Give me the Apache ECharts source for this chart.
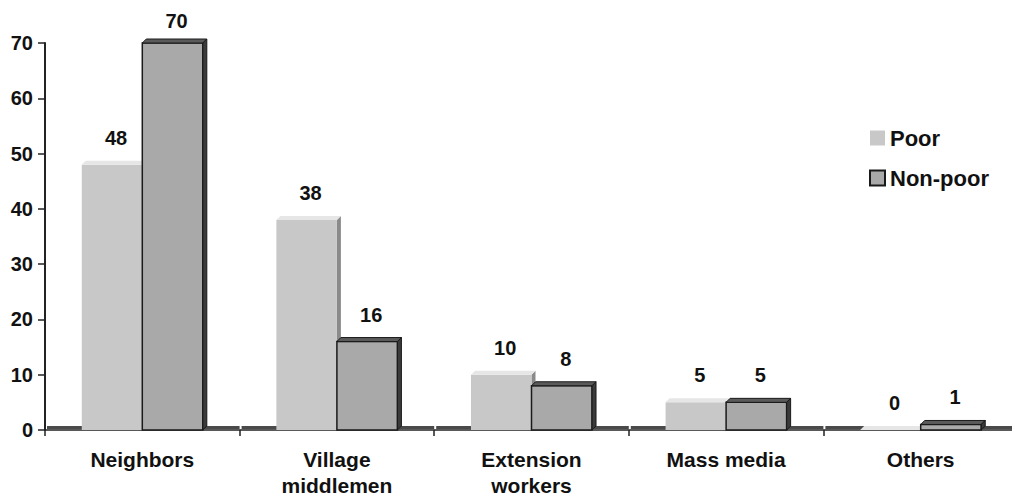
<!DOCTYPE html>
<html>
<head>
<meta charset="utf-8">
<script src="https://cdn.jsdelivr.net/npm/echarts@6/dist/echarts.min.js"></script>
<style>
html,body{margin:0;padding:0;background:#fff;}
#chart{width:1012px;height:496px;}
</style>
</head>
<body>
<div id="chart"></div>
<script>
const categories = ['Neighbors', 'Village\nmiddlemen', 'Extension\nworkers', 'Mass media', 'Others'];
const poorValues = [48, 38, 10, 5, 0];
const nonPoorValues = [70, 16, 8, 5, 1];
const yTicks = { min: 0, max: 70, interval: 10 };

const FONT = '"Liberation Sans", Arial, sans-serif';
const DEPTH = 4;
const BAR_FRAC = 0.311;

function makeRender(kind) {
  return function (params, api) {
    const i = api.value(0);
    const v = api.value(1);
    const top = api.coord([i, v]);
    const zero = api.coord([i, 0]);
    const band = api.size([1, 0])[0];
    const bw = band * BAR_FRAC;
    const cx = top[0];
    const x0 = kind === 'poor' ? cx - bw : cx;
    const x1 = x0 + bw;
    const ty = top[1];
    const zy = zero[1];
    const d = DEPTH;
    const children = [];
    if (kind === 'poor') {
      children.push({
        type: 'rect',
        shape: { x: cx - band / 2 + 2, y: zy - 4, width: band - 2, height: 3 },
        style: { fill: '#4a4a4a' }
      });
      children.push({
        type: 'polygon',
        shape: { points: [[x1, ty], [x1 + d, ty - d], [x1 + d, zy - d], [x1, zy]] },
        style: { fill: '#8a8a8a' }
      });
      children.push({
        type: 'rect',
        shape: { x: x0, y: ty, width: bw, height: zy - ty },
        style: { fill: '#c8c8c8' }
      });
      children.push({
        type: 'polygon',
        shape: { points: [[x0, ty], [x0 + d, ty - d], [x1 + d, ty - d], [x1, ty]] },
        style: { fill: '#e6e6e6' }
      });
    } else {
      children.push({
        type: 'rect',
        shape: { x: x0, y: ty, width: bw, height: zy - ty },
        style: { fill: '#a9a9a9', stroke: '#1a1a1a', lineWidth: 1.5 }
      });
      children.push({
        type: 'polygon',
        shape: { points: [[x0, ty], [x0 + d, ty - d], [x1 + d, ty - d], [x1, ty]] },
        style: { fill: '#5a5a5a', stroke: '#1a1a1a', lineWidth: 1 }
      });
      children.push({
        type: 'polygon',
        shape: { points: [[x1, ty], [x1 + d, ty - d], [x1 + d, zy - d], [x1, zy]] },
        style: { fill: '#3a3a3a', stroke: '#1a1a1a', lineWidth: 1 }
      });
    }
    let ly = ty - 27;
    if (ly < 21) ly = 21;
    children.push({
      type: 'text',
      style: {
        text: String(v),
        x: (x0 + x1) / 2 + 4,
        y: ly,
        align: 'center',
        verticalAlign: 'middle',
        font: 'bold 20px ' + FONT,
        fill: '#111'
      }
    });
    return { type: 'group', children: children };
  };
}

const chart = echarts.init(document.getElementById('chart'), null, { renderer: 'svg' });
chart.setOption({
  animation: false,
  backgroundColor: '#ffffff',
  grid: { left: 45, top: 43, width: 973, height: 387, containLabel: false, outerBoundsMode: 'none' },
  legend: {
    orient: 'vertical',
    left: 864,
    top: 122,
    itemWidth: 15,
    itemHeight: 15,
    itemGap: 18,
    icon: 'rect',
    textStyle: { fontFamily: FONT, fontWeight: 'bold', fontSize: 22, color: '#111' },
    data: [
      { name: 'Poor', itemStyle: { borderWidth: 0 } },
      { name: 'Non-poor', itemStyle: { borderColor: '#1a1a1a', borderWidth: 2 } }
    ]
  },
  xAxis: {
    type: 'category',
    data: categories,
    boundaryGap: true,
    axisLine: { show: true, lineStyle: { color: '#222', width: 1.5 } },
    axisTick: { show: true, length: 6, lineStyle: { color: '#222', width: 1.5 } },
    axisLabel: {
      interval: 0,
      margin: 16,
      fontFamily: FONT,
      fontWeight: 'bold',
      fontSize: 21,
      lineHeight: 26,
      color: '#111'
    },
    splitLine: { show: false }
  },
  yAxis: {
    type: 'value',
    min: yTicks.min,
    max: yTicks.max,
    interval: yTicks.interval,
    axisLine: { show: true, lineStyle: { color: '#222', width: 2 } },
    axisTick: { show: true, length: 7, lineStyle: { color: '#222', width: 1.5 } },
    axisLabel: { margin: 12, fontFamily: FONT, fontWeight: 'bold', fontSize: 20, color: '#111' },
    splitLine: { show: false }
  },
  series: [
    {
      name: 'Poor',
      type: 'custom',
      renderItem: makeRender('poor'),
      itemStyle: { color: '#c8c8c8' },
      encode: { x: 0, y: 1 },
      clip: false,
      data: poorValues.map((v, i) => [i, v])
    },
    {
      name: 'Non-poor',
      type: 'custom',
      renderItem: makeRender('nonpoor'),
      itemStyle: { color: '#a9a9a9' },
      encode: { x: 0, y: 1 },
      clip: false,
      data: nonPoorValues.map((v, i) => [i, v])
    }
  ]
});
</script>
</body>
</html>
